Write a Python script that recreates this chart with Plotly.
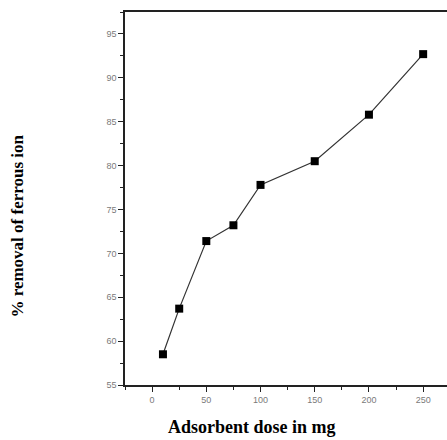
import plotly.graph_objects as go

# Adsorbent dose (mg) vs. percentage removal of ferrous ion
dose_mg = [10, 25, 50, 75, 100, 150, 200, 250]
removal_pct = [58.5, 63.7, 71.4, 73.2, 77.8, 80.5, 85.8, 92.7]

x_ticks = [0, 50, 100, 150, 200, 250]
y_ticks = [55, 60, 65, 70, 75, 80, 85, 90, 95]

x_title = "Adsorbent dose in mg"
y_title = "% removal of ferrous ion"

fig = go.Figure()
fig.add_trace(go.Scatter(
    x=dose_mg, y=removal_pct,
    mode="lines+markers",
    line=dict(color="#333333", width=1.2),
    marker=dict(symbol="square", size=8, color="#000000"),
    showlegend=False,
))

axis_common = dict(
    showgrid=False, zeroline=False,
    showline=True, linecolor="#222222", linewidth=1.5,
    ticks="outside", ticklen=5, tickwidth=1.4, tickcolor="#222222",
    tickfont=dict(family="Arial, Liberation Sans", size=9, color="#7a7a7a"),
)

fig.update_layout(
    width=447, height=440,
    margin=dict(l=125, r=0, t=12, b=55),
    paper_bgcolor="white", plot_bgcolor="white",
    xaxis=dict(
        range=[-25, 272], tickvals=x_ticks, mirror=True,
        minor=dict(dtick=25, tick0=0, ticks="outside", ticklen=3, tickcolor="#222222"),
        **axis_common,
    ),
    yaxis=dict(
        range=[55, 97.5], tickvals=y_ticks,
        minor=dict(dtick=2.5, tick0=55, ticks="outside", ticklen=3, tickcolor="#222222"),
        **axis_common,
    ),
    annotations=[
        dict(text=x_title,
             xref="paper", yref="paper", x=0.394, y=-0.112,
             xanchor="center", yanchor="middle", showarrow=False,
             font=dict(family="Liberation Serif", size=18, color="#000000", weight="bold")),
        dict(text=y_title,
             xref="paper", yref="paper", x=-0.335, y=0.425,
             xanchor="center", yanchor="middle", showarrow=False, textangle=-90,
             font=dict(family="Liberation Serif", size=17, color="#000000", weight="bold")),
    ],
)

fig.write_html("out.html")
